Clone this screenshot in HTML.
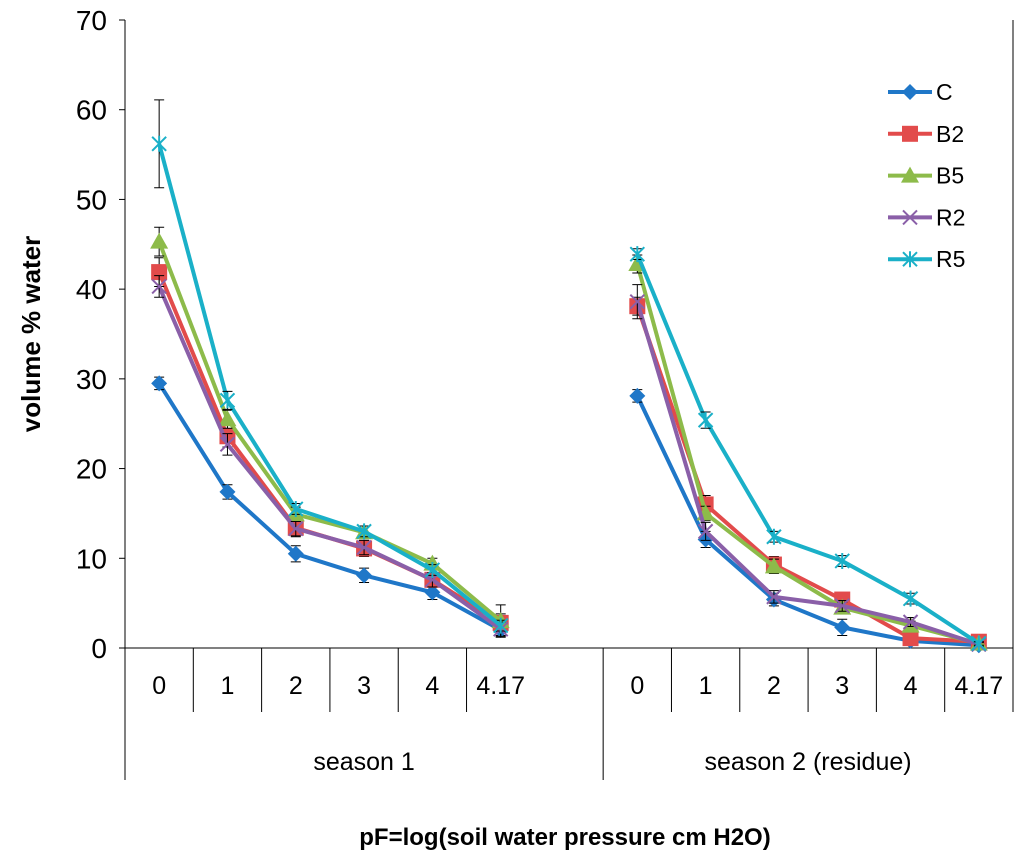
<!DOCTYPE html>
<html><head><meta charset="utf-8"><style>
body{margin:0;background:#fff;}
svg{display:block;font-family:"Liberation Sans",sans-serif;}
</style></head><body>
<svg id="chart" width="1024" height="861">
<g id="axes"></g><g id="series"></g><g id="legend"></g>
<text x="40" y="334" transform="rotate(-90 40 334)" text-anchor="middle" font-size="26" font-weight="bold">volume % water</text>
<text x="565" y="845" text-anchor="middle" font-size="24" font-weight="bold">pF=log(soil water pressure cm H2O)</text>
</svg>
<script>
const categories = ["0","1","2","3","4","4.17","","0","1","2","3","4","4.17"];
const groups = ["season 1","season 2 (residue)"];
const yTicks = [0,10,20,30,40,50,60,70];
const seriesNames = ["C","B2","B5","R2","R5"];
const colors = ["#1F77C8","#E24B4B","#8DBB4A","#8A5FA8","#1AB0C8"];
const C  = [29.5,17.4,10.5,8.1,6.2,2.0,null,28.1,12.1,5.4,2.3,0.8,0.3];
const B2 = [41.9,23.6,13.4,11.1,7.6,2.8,null,38.1,16.0,9.3,5.4,1.1,0.7];
const B5 = [45.3,25.5,14.9,12.9,9.4,3.0,null,42.8,15.0,9.1,4.5,2.5,0.5];
const R2 = [40.3,22.7,13.3,11.2,7.6,2.1,null,38.6,13.0,5.7,4.7,2.9,0.4];
const R5 = [56.2,27.6,15.5,13.0,8.7,2.5,null,43.9,25.4,12.4,9.7,5.5,0.5];
const errC  = [0.7,0.8,0.9,0.8,0.8,0.6,null,0.7,0.9,0.7,0.9,0.3,0.2];
const errB2 = [1.6,1.2,1.0,0.9,0.8,1.0,null,1.0,1.0,0.9,0.6,0.3,0.2];
const errB5 = [1.6,1.0,0.8,0.7,0.6,1.8,null,1.0,0.8,0.8,0.6,0.5,0.2];
const errR2 = [1.2,1.2,0.8,0.8,0.8,0.8,null,1.9,1.0,0.7,0.6,0.5,0.2];
const errR5 = [4.9,1.0,0.6,0.6,0.6,0.6,null,0.6,0.9,0.6,0.6,0.6,0.2];
const allSeries=[C,B2,B5,R2,R5], allErr=[errC,errB2,errB5,errR2,errR5];
const NS="http://www.w3.org/2000/svg";
const L=125,R=1013,T=20,B=648;
const cw=(R-L)/categories.length;
const x=i=>L+cw*(i+0.5);
const y=v=>B-(v/70)*(B-T);
function mk(tag,attrs,parent){const e=document.createElementNS(NS,tag);for(const k in attrs)e.setAttribute(k,attrs[k]);parent.appendChild(e);return e;}
const ax=document.getElementById('axes');
let e=mk('line',{x1:L,y1:T,x2:L,y2:780,stroke:'#000','stroke-width':1},ax);


e=mk('line',{x1:L,y1:B,x2:R,y2:B,stroke:'#000','stroke-width':1},ax);


e=mk('line',{x1:R,y1:T,x2:R,y2:712,stroke:'#000','stroke-width':1},ax);


e=mk('line',{x1:L+7*cw,y1:B,x2:L+7*cw,y2:780,stroke:'#000','stroke-width':1},ax);


yTicks.forEach(t=>{
  const l=mk('line',{x1:L-6,y1:y(t),x2:L,y2:y(t),stroke:'#000'},ax);
  
  
  const tx=mk('text',{x:L-18,y:y(t)+10,'text-anchor':'end','font-size':28},ax);
  tx.textContent=t;
  
  
});
categories.forEach((c,i)=>{
  if(i>0&&i!==6&&i!==7){const l=mk('line',{x1:L+i*cw,y1:B,x2:L+i*cw,y2:712,stroke:'#000'},ax);
  
  }
  if(c!==""){const t=mk('text',{x:x(i),y:694,'text-anchor':'middle','font-size':25},ax);t.textContent=c;
  
  }
});
groups.forEach((g,gi)=>{
  const cx=gi===0?L+3.5*cw:L+7*cw+3*cw;
  const t=mk('text',{x:cx,y:770,'text-anchor':'middle','font-size':25},ax);t.textContent=g;
  
  
});
function marker(k,cx,cy,col,g){
  let m;
  if(k===0)m=mk('polygon',{points:`${cx},${cy-8} ${cx+8},${cy} ${cx},${cy+8} ${cx-8},${cy}`,fill:col},g);
  else if(k===1)m=mk('rect',{x:cx-8,y:cy-8,width:16,height:16,fill:col},g);
  else if(k===2)m=mk('polygon',{points:`${cx},${cy-9} ${cx+9},${cy+7} ${cx-9},${cy+7}`,fill:col},g);
  else if(k===3)m=mk('path',{d:`M${cx-7},${cy-7}L${cx+7},${cy+7}M${cx-7},${cy+7}L${cx+7},${cy-7}`,stroke:col,'stroke-width':2},g);
  else m=mk('path',{d:`M${cx-7},${cy-7}L${cx+7},${cy+7}M${cx-7},${cy+7}L${cx+7},${cy-7}M${cx},${cy-8}L${cx},${cy+8}`,stroke:col,'stroke-width':2},g);
  return m;
}
const sg=document.getElementById('series');
allSeries.forEach((s,k)=>{
  const g=mk('g',{},sg);
  
  
  [[0,6],[7,13]].forEach(([a,b])=>{
    let d='';for(let i=a;i<b;i++)d+=(i===a?'M':'L')+x(i)+','+y(s[i]);
    const p=mk('path',{d:d,fill:'none',stroke:colors[k],'stroke-width':4,'stroke-linejoin':'round'},g);
    
    
  });
  s.forEach((v,i)=>{
    if(v===null)return;
    const er=allErr[k][i];
    const eb=mk('path',{d:`M${x(i)},${y(v+er)}L${x(i)},${y(v-er)}M${x(i)-5},${y(v+er)}L${x(i)+5},${y(v+er)}M${x(i)-5},${y(v-er)}L${x(i)+5},${y(v-er)}`,stroke:'#000','stroke-width':1},g);
    
    
    const m=marker(k,x(i),y(v),colors[k],g);
    
    
  });
});
const lg=document.getElementById('legend');
seriesNames.forEach((n,k)=>{
  const ly=92+k*41.8;
  const g=mk('g',{},lg);
  
  
  mk('line',{x1:888,y1:ly,x2:932,y2:ly,stroke:colors[k],'stroke-width':4},g);
  marker(k,910,ly,colors[k],g);
  const t=mk('text',{x:936,y:ly+8,'font-size':23},g);t.textContent=n;
});
</script>
</body></html>
